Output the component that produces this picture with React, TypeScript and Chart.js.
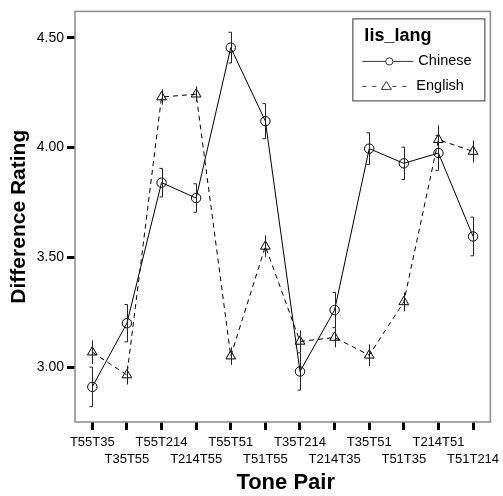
import React, { useEffect, useRef } from "react";
import { Chart, registerables } from "chart.js";

Chart.register(...registerables);

const categories = [
  "T55T35", "T35T55", "T55T214", "T214T55", "T55T51", "T51T55",
  "T35T214", "T214T35", "T35T51", "T51T35", "T214T51", "T51T214",
];
const chinese = [2.91, 3.2, 3.84, 3.77, 4.455, 4.12, 2.98, 3.26, 3.995, 3.928, 3.975, 3.595];
const chineseErr = [0.09, 0.085, 0.065, 0.065, 0.07, 0.08, 0.085, 0.08, 0.072, 0.074, 0.079, 0.088];
const english = [3.068, 2.964, 4.23, 4.243, 3.05, 3.55, 3.117, 3.135, 3.054, 3.297, 4.036, 3.982];
const englishErr = [0.054, 0.043, 0.035, 0.035, 0.04, 0.05, 0.05, 0.045, 0.05, 0.043, 0.065, 0.05];
const yTicks = [3.0, 3.5, 4.0, 4.5];
const seriesNames = ["Chinese", "English"];
const legendTitle = "lis_lang";
const xTitle = "Tone Pair";
const yTitle = "Difference Rating";

const FONT = "'Liberation Sans', Arial, Helvetica, sans-serif";

const decorPlugin = {
  id: "decor",
  afterDatasetsDraw(chart: any) {
    const { ctx, chartArea, scales } = chart;
    const x = scales.x;
    const y = scales.y;
    const errs = [chineseErr, englishErr];
    ctx.save();
    // error bars
    chart.data.datasets.forEach((ds: any, di: number) => {
      ds.data.forEach((v: number, i: number) => {
        const e = errs[di][i];
        const px = Math.round(x.getPixelForValue(i)) + 0.5;
        const yTop = y.getPixelForValue(v + e);
        const yBot = y.getPixelForValue(v - e);
        ctx.strokeStyle = "#222";
        ctx.lineWidth = 1;
        ctx.setLineDash([]);
        ctx.beginPath();
        ctx.moveTo(px, yTop);
        ctx.lineTo(px, yBot);
        if (di === 0) {
          ctx.moveTo(px - 3, yTop);
          ctx.lineTo(px, yTop);
          ctx.moveTo(px - 3, yBot);
          ctx.lineTo(px, yBot);
        }
        ctx.stroke();
      });
    });
    // frame
    ctx.strokeStyle = "#8a8a8a";
    ctx.lineWidth = 1.5;
    ctx.strokeRect(chartArea.left, chartArea.top, chartArea.right - chartArea.left, chartArea.bottom - chartArea.top);

    // legend
    const bx = chartArea.right - 138;
    const by = chartArea.top + 7;
    ctx.strokeStyle = "#333";
    ctx.lineWidth = 1;
    ctx.strokeRect(bx + 0.5, by + 0.5, 132, 82);
    ctx.fillStyle = "#000";
    ctx.font = `bold 18px ${FONT}`;
    ctx.textBaseline = "middle";
    ctx.textAlign = "left";
    ctx.fillText(legendTitle, bx + 12, by + 18);
    // Chinese item
    const y1 = by + 43;
    ctx.beginPath();
    ctx.moveTo(bx + 10, y1);
    ctx.lineTo(bx + 61, y1);
    ctx.stroke();
    ctx.beginPath();
    ctx.arc(bx + 37, y1, 3.6, 0, Math.PI * 2);
    ctx.fillStyle = "#fff";
    ctx.fill();
    ctx.stroke();
    ctx.fillStyle = "#000";
    ctx.font = `14.5px ${FONT}`;
    ctx.fillText(seriesNames[0], bx + 66, y1);
    // English item
    const y2 = by + 68;
    ctx.setLineDash([4, 6]);
    ctx.beginPath();
    ctx.moveTo(bx + 10, y2);
    ctx.lineTo(bx + 60, y2);
    ctx.stroke();
    ctx.setLineDash([]);
    ctx.beginPath();
    const tx = bx + 34;
    ctx.moveTo(tx, y2 - 5);
    ctx.lineTo(tx + 5, y2 + 3);
    ctx.lineTo(tx - 5, y2 + 3);
    ctx.closePath();
    ctx.fillStyle = "#fff";
    ctx.fill();
    ctx.stroke();
    ctx.fillStyle = "#000";
    ctx.fillText(seriesNames[1], bx + 64, y2);

    // axis titles
    ctx.font = `bold 22px ${FONT}`;
    ctx.textAlign = "center";
    ctx.fillText(xTitle, (chartArea.left + chartArea.right) / 2 + 3, 483);
    ctx.save();
    ctx.translate(19, (chartArea.top + chartArea.bottom) / 2);
    ctx.rotate(-Math.PI / 2);
    ctx.font = `bold 21px ${FONT}`;
    ctx.fillText(yTitle, 0, 0);
    ctx.restore();
    ctx.restore();
  },
};

export default function App() {
  const ref = useRef<HTMLCanvasElement | null>(null);
  useEffect(() => {
    if (!ref.current) return;
    const chart = new Chart(ref.current, {
      type: "line",
      data: {
        labels: categories,
        datasets: [
          {
            label: seriesNames[0],
            data: chinese,
            borderColor: "#000",
            borderWidth: 1,
            pointStyle: "circle",
            pointRadius: 4.7,
            pointBorderColor: "#000",
            pointBackgroundColor: "rgba(0,0,0,0)",
            pointBorderWidth: 1,
            tension: 0,
          },
          {
            label: seriesNames[1],
            data: english,
            borderColor: "#000",
            borderWidth: 1,
            borderDash: [5, 4],
            pointStyle: "triangle",
            pointRadius: 5.6,
            pointBorderColor: "#000",
            pointBackgroundColor: "rgba(0,0,0,0)",
            pointBorderWidth: 1,
            tension: 0,
          },
        ],
      },
      options: {
        responsive: false,
        animation: false,
        layout: { padding: { left: 0, right: 10, top: 5, bottom: 0 } },
        plugins: { legend: { display: false }, tooltip: { enabled: false } },
        scales: {
          x: {
            type: "category",
            offset: true,
            border: { display: false },
            grid: {
              offset: false,
              drawOnChartArea: false,
              drawTicks: true,
              tickLength: 8,
              tickWidth: 3,
              tickColor: "#000",
            },
            ticks: {
              autoSkip: false,
              maxRotation: 0,
              minRotation: 0,
              padding: 3.5,
              color: "#000",
              font: { family: FONT, size: 13, lineHeight: "17px" },
              callback: (_v: any, i: number) =>
                i % 2 === 0 ? [categories[i], ""] : ["", categories[i]],
            },
            afterFit: (s: any) => {
              s.height = 74;
            },
          },
          y: {
            min: 2.75,
            max: 4.62,
            border: { display: false },
            grid: {
              drawOnChartArea: false,
              drawTicks: true,
              tickLength: 8,
              tickWidth: 3,
              tickColor: "#000",
            },
            ticks: {
              padding: 3,
              color: "#000",
              font: { family: FONT, size: 14 },
              callback: (v: any) => Number(v).toFixed(2),
            },
            afterBuildTicks: (s: any) => {
              s.ticks = yTicks.map((v) => ({ value: v }));
            },
            afterFit: (s: any) => {
              s.width = 75;
            },
          },
        },
      },
      plugins: [decorPlugin],
    } as any);
    return () => chart.destroy();
  }, []);
  return (
    <div style={{ position: "absolute", left: 0, top: 0, width: 503, height: 496, background: "#fff" }}>
      <canvas ref={ref} width={503} height={496} style={{ display: "block" }} />
    </div>
  );
}
